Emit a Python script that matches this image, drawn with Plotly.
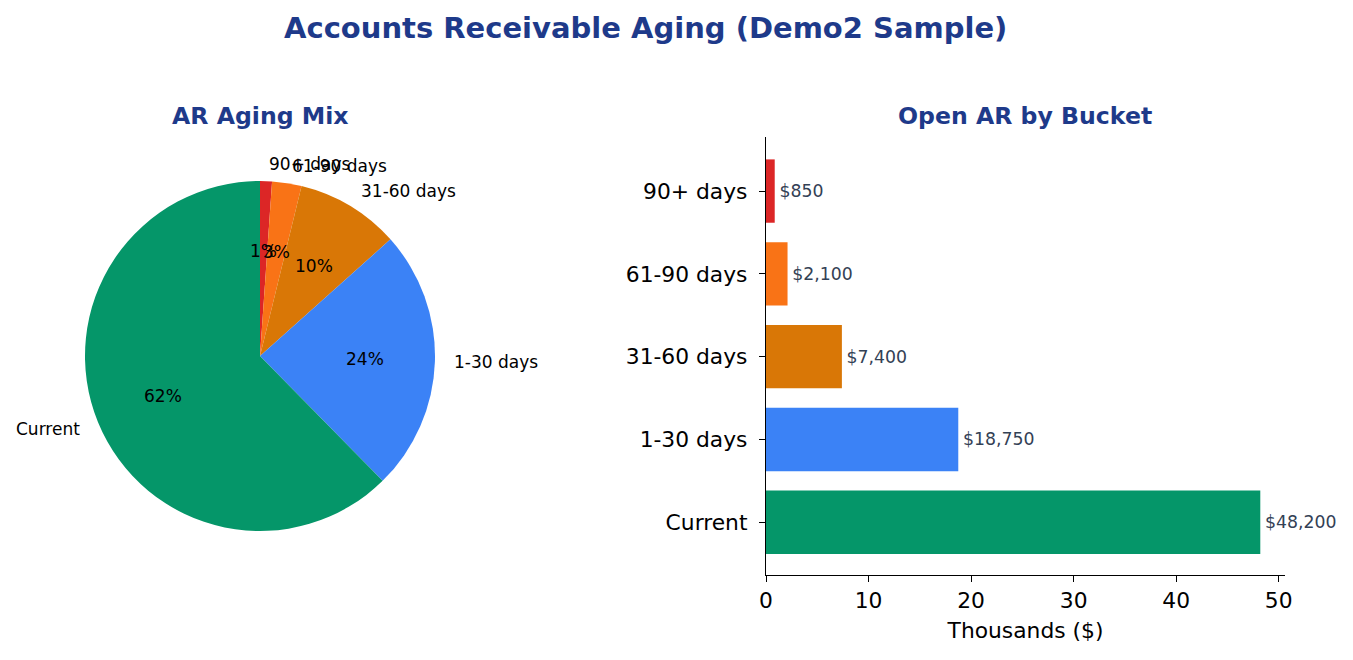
import math
import plotly.graph_objects as go

# ---- data ----
buckets = ["Current", "1-30 days", "31-60 days", "61-90 days", "90+ days"]
amounts = [48200, 18750, 7400, 2100, 850]
colors = ["#059669", "#3b82f6", "#d97706", "#f97316", "#dc2626"]
xticks = [0, 10, 20, 30, 40, 50]

W, H = 1353, 660
FONT = "DejaVu Sans"
TITLE_C = "#1e3a8a"

# pie geometry (layout, px)
cx, cy, r = 260, 356, 175

fig = go.Figure()

# slices drawn clockwise from 12 o'clock in reversed order == counterclockwise in data order
fig.add_trace(go.Pie(
    labels=buckets[::-1], values=amounts[::-1], sort=False, direction="clockwise",
    rotation=0, marker=dict(colors=colors[::-1], line=dict(width=0)),
    textinfo="none", hoverinfo="label+percent", showlegend=False,
    domain=dict(x=[(cx - r) / W, (cx + r) / W], y=[1 - (cy + r) / H, 1 - (cy - r) / H]),
))

thousands = [a / 1000 for a in amounts]
fig.add_trace(go.Bar(
    y=buckets, x=thousands, orientation="h", width=0.765,
    marker=dict(color=colors, line=dict(width=0)),
    text=["\u200a${:,.0f}".format(a) for a in amounts], textposition="outside",
    textfont=dict(family=FONT, size=17.3, color="#334155"),
    constraintext="none", cliponaxis=False, showlegend=False,
    xaxis="x", yaxis="y",
))

ann = []
total = sum(amounts)
start = 90.0
for lab, a in zip(buckets, amounts):
    frac = a / total
    span = frac * 360
    mid = math.radians(start + span / 2)
    start += span
    c, s = math.cos(mid), math.sin(mid)
    lx, ly = cx + 1.1 * r * c, cy - 1.1 * r * s
    ann.append(dict(x=lx / W, y=1 - ly / H, xref="paper", yref="paper", text=lab,
                    showarrow=False, xanchor="left" if c > 0 else "right", yanchor="middle",
                    font=dict(family=FONT, size=17, color="black")))
    px_, py_ = cx + 0.6 * r * c, cy - 0.6 * r * s
    ann.append(dict(x=px_ / W, y=1 - py_ / H, xref="paper", yref="paper",
                    text="{:.0f}%".format(frac * 100),
                    showarrow=False, xanchor="center", yanchor="middle",
                    font=dict(family=FONT, size=17, color="black")))

ann.append(dict(x=645 / W, y=1 - 28 / H, xref="paper", yref="paper",
                text="<b>Accounts Receivable Aging (Demo2 Sample)</b>", showarrow=False,
                xanchor="center", yanchor="middle", font=dict(family=FONT, size=29, color=TITLE_C)))
ann.append(dict(x=260 / W, y=1 - 116 / H, xref="paper", yref="paper",
                text="<b>AR Aging Mix</b>", showarrow=False,
                xanchor="center", yanchor="middle", font=dict(family=FONT, size=23.6, color=TITLE_C)))
ann.append(dict(x=1025 / W, y=1 - 116 / H, xref="paper", yref="paper",
                text="<b>Open AR by Bucket</b>", showarrow=False,
                xanchor="center", yanchor="middle", font=dict(family=FONT, size=23.6, color=TITLE_C)))

xmax = max(thousands) * 1.05
fig.update_layout(
    width=W, height=H, margin=dict(l=0, r=0, t=0, b=0, autoexpand=False),
    paper_bgcolor="white", plot_bgcolor="white",
    font=dict(family=FONT, color="black"),
    annotations=ann,
    xaxis=dict(domain=[766 / W, 1285 / W], range=[0, xmax], tickvals=xticks, automargin=False,
               showgrid=False, zeroline=False, showline=True, linecolor="black", linewidth=1.3,
               ticks="outside", ticklen=6, tickwidth=1.3, tickcolor="black",
               tickfont=dict(family=FONT, size=21.8, color="black"),
               title=dict(text="Thousands ($)", font=dict(family=FONT, size=21.8, color="black"), standoff=10),
               anchor="y", fixedrange=True),
    yaxis=dict(domain=[1 - 575 / H, 1 - 137 / H], type="category", automargin=False,
               categoryorder="array", categoryarray=buckets, range=[-0.637, 4.653],
               showgrid=False, zeroline=False, showline=True, linecolor="black", linewidth=1.3,
               ticks="outside", ticklen=6, tickwidth=1.3, tickcolor="black",
               tickfont=dict(family=FONT, size=21.8, color="black"), ticklabelstandoff=7,
               anchor="x", fixedrange=True),
)

fig.write_html("out.html", config={"displayModeBar": False},
               post_script="document.body.style.margin='0';")
